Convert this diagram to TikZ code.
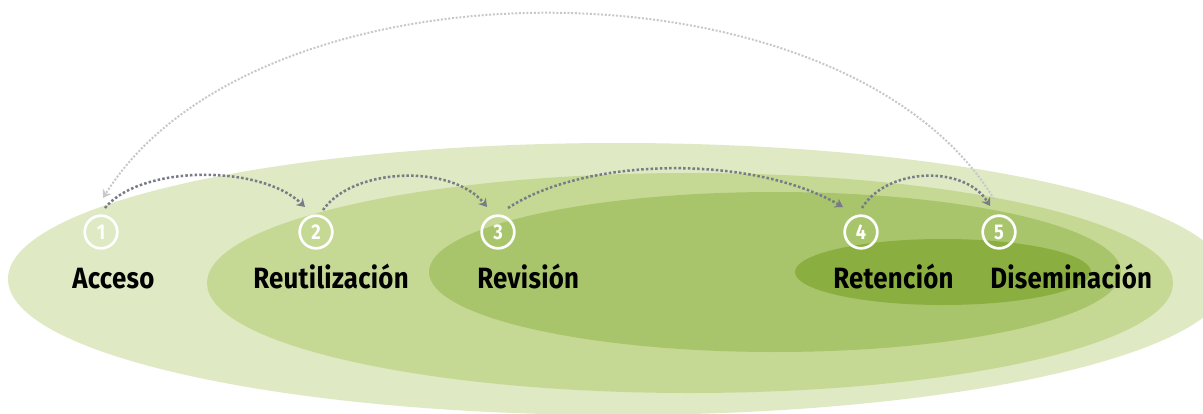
\documentclass[tikz,border=0pt]{standalone}
\usepackage{fontspec}
\setmainfont{Fira Sans}
\newfontfamily\labelfont[FakeStretch=0.88,LetterSpace=1]{Fira Sans}
\newfontfamily\numfont[FakeStretch=0.85]{Fira Sans}
\usetikzlibrary{arrows.meta}

\definecolor{greenA}{RGB}{223,233,196}
\definecolor{greenB}{RGB}{198,217,148}
\definecolor{greenC}{RGB}{168,197,107}
\definecolor{greenD}{RGB}{138,174,63}
\definecolor{darkdot}{RGB}{120,124,134}
\definecolor{lightdot}{RGB}{200,200,200}

\begin{document}
\begin{tikzpicture}[x=0.75pt,y=0.75pt,yscale=-1,xscale=1,
    stepnum/.style={circle,draw=white,line width=2pt,minimum size=24.5pt,inner sep=0pt,text=white,font=\fontsize{16}{17}\selectfont\numfont\bfseries},
    steplabel/.style={anchor=base west,inner sep=0pt,font=\fontsize{22}{24}\selectfont\labelfont\bfseries},
    nextarrow/.style={draw=darkdot,line width=1.9pt,dash pattern=on 1.9pt off 1.6pt,-{Stealth[length=6pt,width=7.5pt,inset=2pt]}},
    backarrow/.style={draw=lightdot,line width=1.5pt,dash pattern=on 1.5pt off 1.3pt,-{Stealth[length=6pt,width=7.5pt,inset=2pt]}}]
        \useasboundingbox (0,0) rectangle (1203,414);

        %Shape: Ellipse [outer]
        \fill[greenA] (618,279) ellipse [x radius=610, y radius=136];
        %Shape: Ellipse
        \fill[greenB] (690,283) ellipse [x radius=483, y radius=110];
        %Shape: Ellipse
        \fill[greenC] (775,272) ellipse [x radius=346, y radius=80];
        %Shape: Ellipse [inner]
        \fill[greenD] (943,272) ellipse [x radius=148, y radius=33];

        % Step circles
        \node[stepnum] (c1) at (101,232) {1};
        \node[stepnum] (c2) at (316,232) {2};
        \node[stepnum] (c3) at (498,232) {3};
        \node[stepnum] (c4) at (861,232) {4};
        \node[stepnum] (c5) at (999,232) {5};

        % Text Node
        \node[steplabel] (l1) at (72,288) {Acceso};
        % Text Node
        \node[steplabel] (l2) at (253,288) {Reutilización};
        % Text Node
        \node[steplabel] (l3) at (477,288) {Revisión};
        % Text Node
        \node[steplabel] (l4) at (833,288) {Retención};
        % Text Node
        \node[steplabel] (l5) at (990,288) {Diseminación};

        %Curve Lines
        \draw[nextarrow] ([shift={(4,-24)}]c1.center) .. controls +(35,-43) and +(-45,-43) .. ([shift={(-11,-25)}]c2.center);
        \draw[nextarrow] ([shift={(7,-22)}]c2.center) .. controls +(30,-43) and +(-35,-43) .. ([shift={(-11,-25)}]c3.center);
        \draw[nextarrow] ([shift={(10,-24)}]c3.center) .. controls +(80,-52) and +(-90,-52) .. ([shift={(-18,-25)}]c4.center);
        \draw[nextarrow] ([shift={(1,-24)}]c4.center) .. controls +(25,-41) and +(-25,-41) .. ([shift={(-9,-26)}]c5.center);
        \draw[backarrow] ([shift={(-5,-33)}]c5.center) .. controls +(-150,-247) and +(155,-247) .. ([shift={(2,-34)}]c1.center);
\end{tikzpicture}
\end{document}
